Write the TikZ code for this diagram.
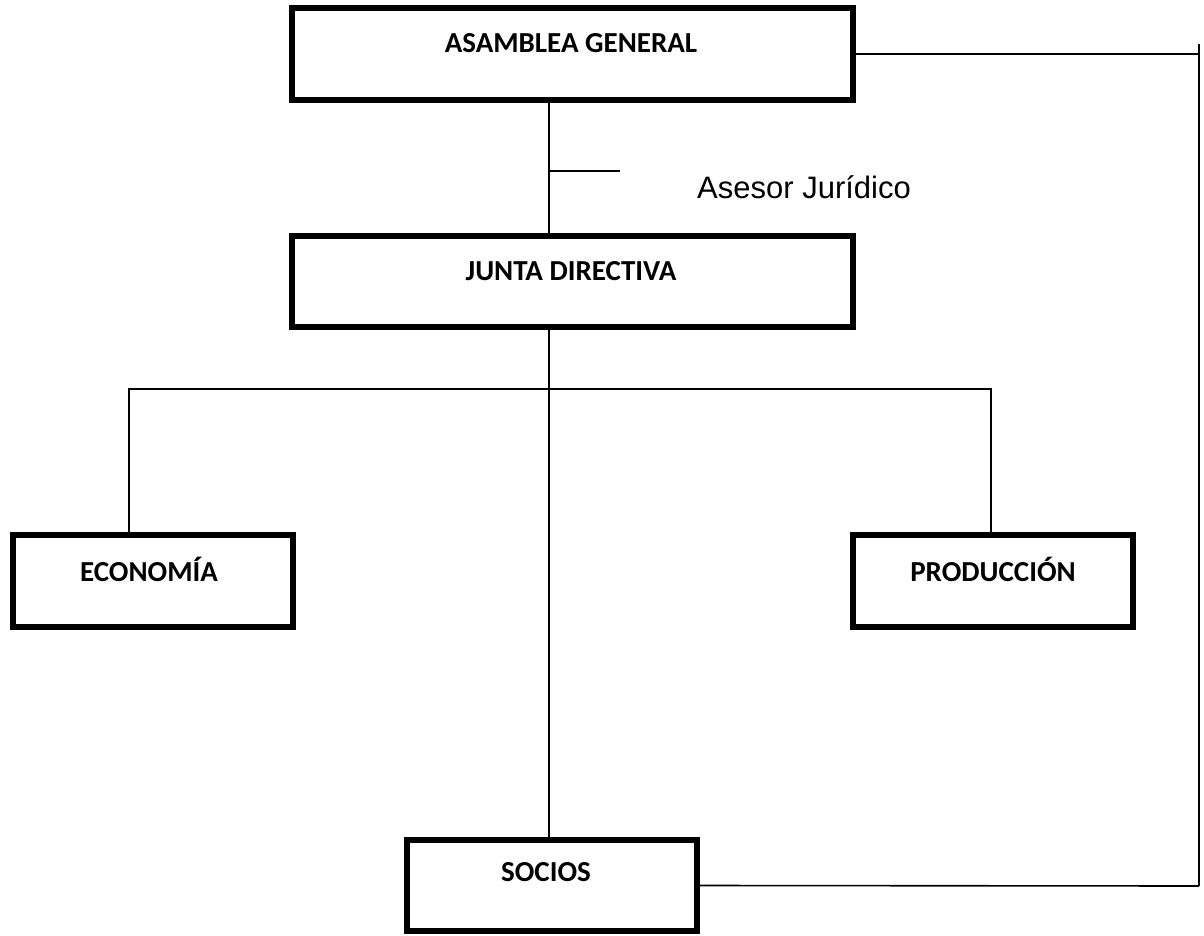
\documentclass[tikz,border=0pt]{standalone}
\usepackage{fontspec}
\setmainfont{Carlito}
\newfontfamily\arialfont{Liberation Sans}
\begin{document}
\begin{tikzpicture}[x=1pt,y=-1pt,
  orgbox/.style={draw=black, line width=6pt, rectangle, inner sep=0pt, fill=white},
  boxtext/.style={anchor=base, inner sep=0pt, font=\fontsize{29}{32}\selectfont\bfseries},
  conn/.style={draw=black, line width=1.6pt}]
\useasboundingbox (0,0) rectangle (1204,936);
\fill[white] (0,0) rectangle (1204,936);

\node[orgbox, minimum width=561pt, minimum height=92pt] (asam) at (572.5,54) {};
\node[boxtext] (asamt) at (571,53) {ASAMBLEA GENERAL};

\node[orgbox, minimum width=561pt, minimum height=91pt] (junta) at (572.5,281.5) {};
\node[boxtext] (juntat) at (571,280.5) {JUNTA DIRECTIVA};

\node[orgbox, minimum width=280pt, minimum height=92pt] (econ) at (153,581) {};
\node[boxtext] (econt) at (149,581) {ECONOMÍA};

\node[orgbox, minimum width=280pt, minimum height=92pt] (prod) at (993,581) {};
\node[boxtext] (prodt) at (993,581) {PRODUCCIÓN};

\node[orgbox, minimum width=290pt, minimum height=91pt] (socios) at (552,885.5) {};
\node[boxtext] (sociost) at (546,881) {SOCIOS};

\node[anchor=base west, inner sep=0pt, font=\arialfont\fontsize{31}{36}\selectfont] (asesor) at (697,198) {Asesor Jurídico};

\coordinate (spine) at (549,0);
\coordinate (bus) at (0,389);
\coordinate (tick) at (620,171);
\coordinate (rtop) at (1199,44);
\coordinate (rbot) at (1199,886);

% main spine
\draw[conn] (asam.south -| spine) -- (junta.north -| spine);
\draw[conn] (tick -| spine) -- (tick);
\draw[conn] (junta.south -| spine) -- (socios.north -| spine);

% bus to departments
\coordinate (econx) at (129,0);
\coordinate (prodx) at (991,0);
\draw[conn] (econ.north -| econx) -- (bus -| econx) -- (bus -| prodx) -- (prod.north -| prodx);

% right return line
\draw[conn] (asam.east) -- (asam.east -| rtop);
\draw[conn] (rtop) -- (rbot);
\draw[conn] (socios.east) -- (rbot);
\end{tikzpicture}
\end{document}
